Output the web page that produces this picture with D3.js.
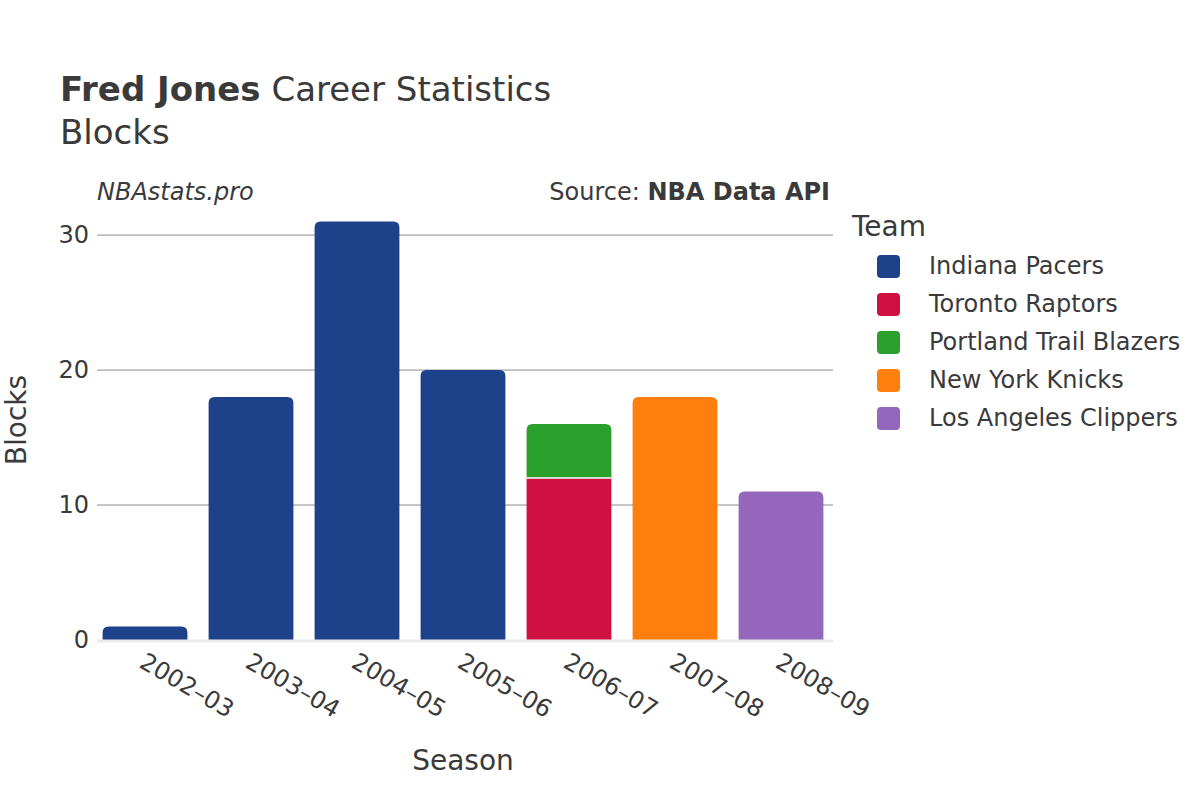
<!DOCTYPE html>
<html><head><meta charset="utf-8">
<script src="https://cdn.jsdelivr.net/npm/d3@7"></script>
<style>body{margin:0;background:#fff;font-family:"DejaVu Sans",sans-serif;}</style>
</head><body><svg id="c" width="1200" height="800"></svg>
<script>
const seasons = ["2002–03","2003–04","2004–05","2005–06","2006–07","2007–08","2008–09"];
const teams = ["Indiana Pacers","Toronto Raptors","Portland Trail Blazers","New York Knicks","Los Angeles Clippers"];
const teamColors = ["#1d428a","#ce1141","#2ca02c","#ff7f0e","#9467bd"];
// blocks per team per season
const indianaPacers = [1,18,31,20,0,0,0];
const torontoRaptors = [0,0,0,0,12,0,0];
const portlandTrailBlazers = [0,0,0,0,4,0,0];
const newYorkKnicks = [0,0,0,0,0,18,0];
const losAngelesClippers = [0,0,0,0,0,0,11];
const yTicks = [0,10,20,30];

const series = [indianaPacers,torontoRaptors,portlandTrailBlazers,newYorkKnicks,losAngelesClippers];
const svg = d3.select("#c");
const L=97,R=833,T=200,B=640;
const x = d3.scaleBand().domain(seasons).range([92,834]).paddingInner(0.2).paddingOuter(0.1);
const y = d3.scaleLinear().domain([0,32.6]).range([B,T]);
const txt="#3a3a3a";

// grid
svg.append("g").selectAll("line").data(yTicks.filter(d=>d>0)).join("line")
 .attr("x1",L).attr("x2",R).attr("y1",d=>y(d)).attr("y2",d=>y(d))
 .attr("stroke","#8c8c8c").attr("stroke-width",1);
// y tick labels
svg.append("g").selectAll("text").data(yTicks).join("text")
 .attr("x",L-8).attr("y",d=>y(d)).attr("dy","0.35em").attr("text-anchor","end")
 .attr("font-size",24).attr("fill",txt).text(d=>d);

// bars
const r=6;
function barPath(x0,y0,w,h,round){
  if(!round||h<=0) return `M${x0},${y0+h}V${y0}H${x0+w}V${y0+h}Z`;
  const rr=Math.min(r,h,w/2);
  return `M${x0},${y0+h}V${y0+rr}Q${x0},${y0} ${x0+rr},${y0}H${x0+w-rr}Q${x0+w},${y0} ${x0+w},${y0+rr}V${y0+h}Z`;
}
seasons.forEach((s,i)=>{
  let cum=0;
  const segs=[];
  series.forEach((arr,k)=>{ if(arr[i]>0){segs.push({k,v0:cum,v1:cum+arr[i]}); cum+=arr[i];} });
  segs.forEach((sg,j)=>{
    const top=j===segs.length-1;
    const y0=y(sg.v1), h=y(sg.v0)-y(sg.v1);
    svg.append("path").attr("d",barPath(x(s),y0,x.bandwidth(),h,top))
      .attr("fill",teamColors[sg.k]);
    if(j>0) svg.append("line").attr("x1",x(s)).attr("x2",x(s)+x.bandwidth())
      .attr("y1",y(sg.v0)).attr("y2",y(sg.v0)).attr("stroke","#fff").attr("stroke-width",1.5);
  });
});
// zero line
svg.append("line").attr("x1",L).attr("x2",R).attr("y1",y(0)+1).attr("y2",y(0)+1)
 .attr("stroke","#ebebeb").attr("stroke-width",3);

// x labels
svg.append("g").selectAll("text").data(seasons).join("text")
 .attr("transform",d=>`translate(${x(d)+x.bandwidth()/2+2},${B+11}) rotate(30)`)
 .attr("dy","0.75em").attr("font-size",24).attr("fill",txt).text(d=>d);

// titles
const t=svg.append("text").attr("x",60).attr("y",101).attr("font-size",34).attr("fill",txt);
t.append("tspan").attr("font-weight","bold").text("Fred Jones");
t.append("tspan").text(" Career Statistics");
svg.append("text").attr("x",60).attr("y",144).attr("font-size",34).attr("fill",txt).text("Blocks");
svg.append("text").attr("x",97).attr("y",200).attr("font-size",24).attr("font-style","italic").attr("fill",txt).text("NBAstats.pro");
const src=svg.append("text").attr("x",830).attr("y",200).attr("text-anchor","end").attr("font-size",24).attr("fill",txt);
src.append("tspan").text("Source: ");
src.append("tspan").attr("font-weight","bold").text("NBA Data API");

svg.append("text").attr("x",463).attr("y",770).attr("text-anchor","middle").attr("font-size",28).attr("fill",txt).text("Season");
svg.append("text").attr("transform",`translate(26,420) rotate(-90)`).attr("text-anchor","middle").attr("font-size",28).attr("fill",txt).text("Blocks");

// legend
svg.append("text").attr("x",852).attr("y",236).attr("font-size",28).attr("fill",txt).text("Team");
const lg=svg.append("g").selectAll("g").data(teams).join("g")
 .attr("transform",(d,i)=>`translate(0,${266+i*38})`);
lg.append("rect").attr("x",877).attr("y",-11).attr("width",23).attr("height",23).attr("rx",4)
 .attr("fill",(d,i)=>teamColors[i]);
lg.append("text").attr("x",929).attr("y",0).attr("dy","0.35em").attr("font-size",24).attr("fill",txt).text(d=>d);
</script></body></html>
